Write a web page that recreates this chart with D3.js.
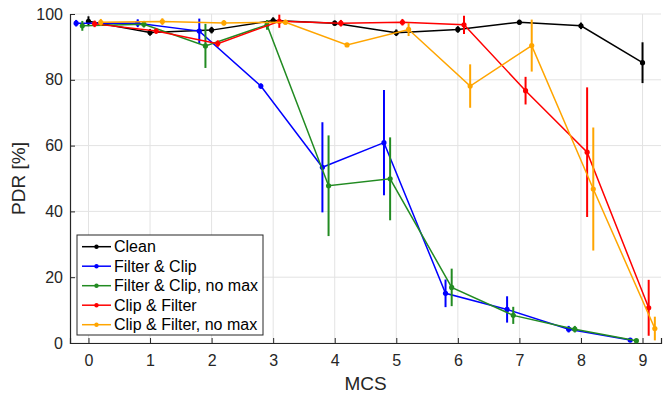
<!DOCTYPE html>
<html lang="en">
  <head>
    <meta charset="UTF-8" />
    <title>PDR vs MCS</title>
    <style>
      body { margin: 0; background: #fff; font-family: "Liberation Sans", Arial, sans-serif; }
      svg { display: block; }
      .tick text { font-size: 16px; fill: #262626; }
    </style>
  </head>
  <body>
    <svg width="671" height="394"></svg>
    <script src="https://d3js.org/d3.v7.min.js"></script>
    <script>
      const mcs = [0, 1, 2, 3, 4, 5, 6, 7, 8, 9];
      const seriesNames = ["Clean", "Filter & Clip", "Filter & Clip, no max", "Clip & Filter", "Clip & Filter, no max"];
      const seriesColors = ["#000000", "#0000ff", "#228b22", "#ff0000", "#ffa500"];
      const seriesShift = [0, -0.2, -0.1, 0.1, 0.2];

      const clean = [97.8, 94.4, 95.1, 98.0, 97.2, 94.3, 95.3, 97.5, 96.4, 85.2];
      const cleanErr = [1.5, 1, 1, 1, 0.8, 1, 1, 0.8, 1, 6.2];
      const filterClip = [97.2, 97.2, 94.8, 78.1, 53.4, 60.9, 15.1, 10.2, 4.2, 0.9];
      const filterClipErr = [1, 1.2, 3.8, 0.8, 13.7, 16, 4.2, 4, 1, 0.5];
      const filterClipNoMax = [96.4, 96.9, 90.3, 96.7, 47.8, 49.9, 16.9, 8.4, 4.2, 0.7];
      const filterClipNoMaxErr = [1.5, 1, 6.7, 1.5, 15.3, 12.6, 5.7, 2.6, 1, 0.5];
      const clipFilter = [97.0, 94.8, 91.0, 97.8, 97.2, 97.5, 96.7, 76.7, 58.0, 10.7];
      const clipFilterErr = [1, 0.8, 1, 2, 1, 1, 2.8, 4.2, 19.7, 8.5];
      const clipFilterNoMax = [97.5, 97.7, 97.3, 97.5, 90.6, 95.3, 78.1, 90.4, 46.8, 4.4];
      const clipFilterNoMaxErr = [1, 1, 0.8, 0.8, 0.6, 2, 6.6, 7.9, 18.7, 3.6];

      const yTicks = [0, 20, 40, 60, 80, 100];

      const values = [clean, filterClip, filterClipNoMax, clipFilter, clipFilterNoMax];
      const errors = [cleanErr, filterClipErr, filterClipNoMaxErr, clipFilterErr, clipFilterNoMaxErr];

      const svg = d3.select("svg");
      const margin = { left: 70, right: 10, top: 14, bottom: 51 };
      const width = 671, height = 394;

      const x = d3.scaleLinear().domain([-0.3, 9.3]).range([margin.left, width - margin.right]);
      const y = d3.scaleLinear().domain([0, 100]).range([height - margin.bottom, margin.top]);

      // grid
      const grid = svg.append("g").attr("stroke", "#e3e3e3").attr("stroke-width", 1);
      grid.selectAll("line.v").data(mcs).join("line")
        .attr("x1", (d) => x(d)).attr("x2", (d) => x(d))
        .attr("y1", y(0)).attr("y2", y(100));
      grid.selectAll("line.h").data(yTicks).join("line")
        .attr("x1", x(-0.3)).attr("x2", x(9.3))
        .attr("y1", (d) => y(d)).attr("y2", (d) => y(d));

      // axes
      const xAxis = svg.append("g")
        .attr("transform", `translate(0,${y(0)})`)
        .call(d3.axisBottom(x).tickValues(mcs).tickSize(-5).tickPadding(11));
      const yAxis = svg.append("g")
        .attr("transform", `translate(${x(-0.3)},0)`)
        .call(d3.axisLeft(y).tickValues(yTicks).tickSize(-5).tickPadding(7));
      [xAxis, yAxis].forEach((a) => {
        a.select(".domain").attr("stroke", "#262626").attr("stroke-width", 1.2);
        a.selectAll(".tick line").attr("stroke", "#262626");
      });
      xAxis.selectAll(".tick text").attr("dy", "0.75em");

      svg.append("text")
        .attr("x", x(4.5)).attr("y", 390)
        .attr("text-anchor", "middle")
        .attr("font-size", 19).attr("fill", "#262626")
        .text("MCS");
      svg.append("text")
        .attr("transform", `translate(25,${y(50)}) rotate(-90)`)
        .attr("text-anchor", "middle")
        .attr("font-size", 19).attr("fill", "#262626")
        .text("PDR [%]");

      const line = d3.line().x((d) => x(d.x)).y((d) => y(d.v));

      values.forEach((vals, s) => {
        const pts = mcs.map((m, i) => ({ x: m + seriesShift[s], v: vals[i], e: errors[s][i] }));
        const g = svg.append("g");
        g.append("path")
          .datum(pts)
          .attr("fill", "none")
          .attr("stroke", seriesColors[s])
          .attr("stroke-width", 1.5)
          .attr("d", line);
        g.selectAll("line.err").data(pts).join("line")
          .attr("stroke", seriesColors[s])
          .attr("stroke-width", 2)
          .attr("x1", (d) => x(d.x)).attr("x2", (d) => x(d.x))
          .attr("y1", (d) => y(Math.max(0, d.v - d.e)))
          .attr("y2", (d) => y(Math.min(100, d.v + d.e)));
        g.selectAll("circle").data(pts).join("circle")
          .attr("fill", seriesColors[s])
          .attr("cx", (d) => x(d.x)).attr("cy", (d) => y(d.v))
          .attr("r", 2.6);
      });

      // legend
      const legend = svg.append("g").attr("transform", "translate(77,235)");
      legend.append("rect")
        .attr("width", 186).attr("height", 100)
        .attr("fill", "#fff").attr("stroke", "#262626").attr("stroke-width", 1);
      const item = legend.selectAll("g").data(seriesNames).join("g")
        .attr("transform", (d, i) => `translate(0,${11.7 + i * 19.5})`);
      item.append("line")
        .attr("x1", 5).attr("x2", 34)
        .attr("stroke", (d, i) => seriesColors[i]).attr("stroke-width", 1.5);
      item.append("circle")
        .attr("cx", 19.5).attr("r", 2.2)
        .attr("fill", (d, i) => seriesColors[i]);
      item.append("text")
        .attr("x", 37).attr("dy", "0.35em")
        .attr("font-size", 16).attr("fill", "#000")
        .text((d) => d);
    </script>
  </body>
</html>
